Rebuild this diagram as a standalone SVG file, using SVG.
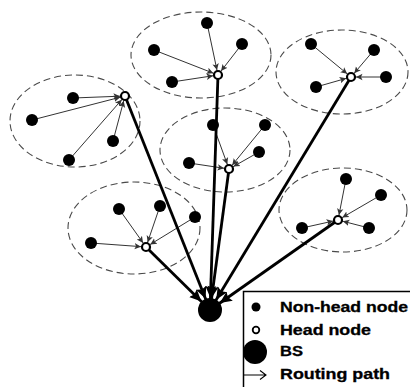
<svg xmlns="http://www.w3.org/2000/svg" width="410" height="387" viewBox="0 0 410 387">
<style>
.cl{fill:none;stroke:#4a4a4a;stroke-width:1.1;stroke-dasharray:7 4}
.nh{fill:#000}
.hd{fill:#fff;stroke:#000;stroke-width:2.2}
.bs{fill:#000}
.in{stroke:#333;stroke-width:1;fill:none;marker-end:url(#sa)}
.rt{stroke:#000;stroke-width:2.8;fill:none;marker-end:url(#ba)}
.lt{font-family:"Liberation Sans",Arial,sans-serif;font-weight:bold;font-size:14px;fill:#000;stroke:#000;stroke-width:0.3}
</style>
<defs>
<marker id="sa" markerUnits="userSpaceOnUse" markerWidth="20" markerHeight="10" viewBox="0 0 20 10" refX="11.5" refY="5" orient="auto">
<path d="M0,1.8 L6.5,5 L0,8.2 L1.5,5 Z" fill="#333"/>
</marker>
<marker id="ba" markerUnits="userSpaceOnUse" markerWidth="30" markerHeight="14" viewBox="0 0 30 14" refX="24" refY="7" orient="auto">
<path d="M0,1.5 L12,7 L0,12.5 L2,7 Z" fill="#000"/>
</marker>
</defs>
<rect width="410" height="387" fill="#fff"/>
<g id="clusters">
<ellipse class="cl" cx="75" cy="121" rx="65" ry="46"/>
<ellipse class="cl" cx="201" cy="55" rx="70" ry="43"/>
<ellipse class="cl" cx="342" cy="72" rx="66" ry="42"/>
<ellipse class="cl" cx="225" cy="150" rx="65" ry="42"/>
<ellipse class="cl" cx="134" cy="228" rx="66" ry="46"/>
<ellipse class="cl" cx="343" cy="210" rx="64" ry="42"/>
</g>
<g id="connectors">
<line class="in" x1="73" y1="98" x2="125" y2="96"/>
<line class="in" x1="32" y1="120" x2="125" y2="96"/>
<line class="in" x1="113" y1="141" x2="125" y2="96"/>
<line class="in" x1="69" y1="160" x2="125" y2="96"/>
<line class="in" x1="207" y1="23" x2="218" y2="75"/>
<line class="in" x1="154" y1="50" x2="218" y2="75"/>
<line class="in" x1="242" y1="44" x2="218" y2="75"/>
<line class="in" x1="172" y1="82" x2="218" y2="75"/>
<line class="in" x1="311" y1="44" x2="351" y2="77"/>
<line class="in" x1="374" y1="50" x2="351" y2="77"/>
<line class="in" x1="386" y1="77" x2="351" y2="77"/>
<line class="in" x1="316" y1="87" x2="351" y2="77"/>
<line class="in" x1="213" y1="125" x2="229" y2="169"/>
<line class="in" x1="265" y1="125" x2="229" y2="169"/>
<line class="in" x1="259" y1="152" x2="229" y2="169"/>
<line class="in" x1="189" y1="163" x2="229" y2="169"/>
<line class="in" x1="119" y1="209" x2="146" y2="247"/>
<line class="in" x1="160" y1="206" x2="146" y2="247"/>
<line class="in" x1="195" y1="217" x2="146" y2="247"/>
<line class="in" x1="91" y1="243" x2="146" y2="247"/>
<line class="in" x1="346" y1="179" x2="338" y2="220"/>
<line class="in" x1="381" y1="195" x2="338" y2="220"/>
<line class="in" x1="369" y1="228" x2="338" y2="220"/>
<line class="in" x1="302" y1="228" x2="338" y2="220"/>
<line class="rt" x1="125" y1="96" x2="210" y2="310"/>
<line class="rt" x1="218" y1="75" x2="210" y2="310"/>
<line class="rt" x1="351" y1="77" x2="210" y2="310"/>
<line class="rt" x1="229" y1="169" x2="210" y2="310"/>
<line class="rt" x1="146" y1="247" x2="210" y2="310"/>
<line class="rt" x1="338" y1="220" x2="210" y2="310"/>
</g>
<g id="cluster1">
<g id="n1a"><circle class="nh" cx="73" cy="98" r="6"/></g>
<g id="n1b"><circle class="nh" cx="32" cy="120" r="6"/></g>
<g id="n1c"><circle class="nh" cx="113" cy="141" r="6"/></g>
<g id="n1d"><circle class="nh" cx="69" cy="160" r="6"/></g>
<g id="h1"><circle class="hd" cx="125" cy="96" r="4"/></g>
</g>
<g id="cluster2">
<g id="n2a"><circle class="nh" cx="207" cy="23" r="6"/></g>
<g id="n2b"><circle class="nh" cx="154" cy="50" r="6"/></g>
<g id="n2c"><circle class="nh" cx="242" cy="44" r="6"/></g>
<g id="n2d"><circle class="nh" cx="172" cy="82" r="6"/></g>
<g id="h2"><circle class="hd" cx="218" cy="75" r="4"/></g>
</g>
<g id="cluster3">
<g id="n3a"><circle class="nh" cx="311" cy="44" r="6"/></g>
<g id="n3b"><circle class="nh" cx="374" cy="50" r="6"/></g>
<g id="n3c"><circle class="nh" cx="386" cy="77" r="6"/></g>
<g id="n3d"><circle class="nh" cx="316" cy="87" r="6"/></g>
<g id="h3"><circle class="hd" cx="351" cy="77" r="4"/></g>
</g>
<g id="cluster4">
<g id="n4a"><circle class="nh" cx="213" cy="125" r="6"/></g>
<g id="n4b"><circle class="nh" cx="265" cy="125" r="6"/></g>
<g id="n4c"><circle class="nh" cx="259" cy="152" r="6"/></g>
<g id="n4d"><circle class="nh" cx="189" cy="163" r="6"/></g>
<g id="h4"><circle class="hd" cx="229" cy="169" r="4"/></g>
</g>
<g id="cluster5">
<g id="n5a"><circle class="nh" cx="119" cy="209" r="6"/></g>
<g id="n5b"><circle class="nh" cx="160" cy="206" r="6"/></g>
<g id="n5c"><circle class="nh" cx="195" cy="217" r="6"/></g>
<g id="n5d"><circle class="nh" cx="91" cy="243" r="6"/></g>
<g id="h5"><circle class="hd" cx="146" cy="247" r="4"/></g>
</g>
<g id="cluster6">
<g id="n6a"><circle class="nh" cx="346" cy="179" r="6"/></g>
<g id="n6b"><circle class="nh" cx="381" cy="195" r="6"/></g>
<g id="n6c"><circle class="nh" cx="369" cy="228" r="6"/></g>
<g id="n6d"><circle class="nh" cx="302" cy="228" r="6"/></g>
<g id="h6"><circle class="hd" cx="338" cy="220" r="4"/></g>
</g>
<g id="bs"><circle class="bs" cx="210" cy="310" r="12"/></g>
<g id="legend">
<rect x="243.5" y="291.5" width="180" height="110" fill="#fff" stroke="#000" stroke-width="1.5"/>
<circle cx="256" cy="307" r="4.5" fill="#000"/>
<text class="lt" x="280" y="312" textLength="128" lengthAdjust="spacingAndGlyphs">Non-head node</text>
<circle cx="256" cy="330" r="3.3" fill="#fff" stroke="#000" stroke-width="1.8"/>
<text class="lt" x="280" y="335" textLength="91" lengthAdjust="spacingAndGlyphs">Head node</text>
<circle cx="255" cy="352" r="12" fill="#000"/>
<text class="lt" x="280" y="356" textLength="23" lengthAdjust="spacingAndGlyphs">BS</text>
<path d="M244,375 H266 M260,370.5 L266,375 L260,379.5" fill="none" stroke="#000" stroke-width="1.1"/>
<text class="lt" x="280" y="379" textLength="110" lengthAdjust="spacingAndGlyphs">Routing path</text>
</g>
</svg>
